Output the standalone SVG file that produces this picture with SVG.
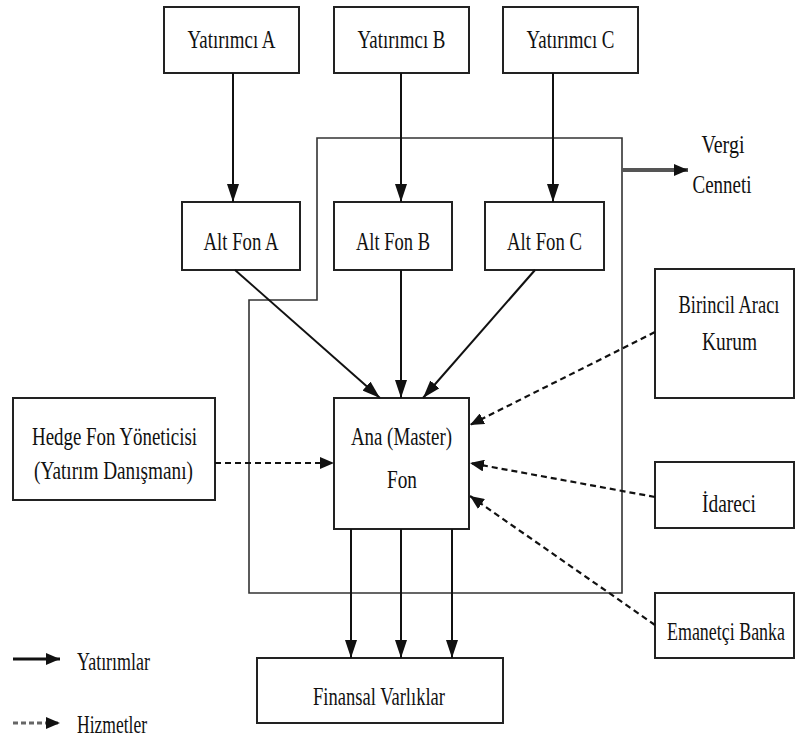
<svg xmlns="http://www.w3.org/2000/svg" width="796" height="746" viewBox="0 0 796 746">
<style>
.box{fill:#fff;stroke:#222;stroke-width:2}
.t{font-family:"Liberation Serif","Times New Roman",serif;font-size:26px;fill:#111;text-anchor:middle}
.tl{font-family:"Liberation Serif","Times New Roman",serif;font-size:26px;fill:#111}
.sol{fill:none;stroke:#111;stroke-width:2}
.dsh{fill:none;stroke:#111;stroke-width:2.2;stroke-dasharray:6 4}
.bnd{fill:none;stroke:#333;stroke-width:1.6}
</style>
<defs>
<marker id="ah" viewBox="0 0 18 12" refX="18" refY="6" markerWidth="18" markerHeight="12" orient="auto" markerUnits="userSpaceOnUse">
<path d="M0,0 L18,6 L0,12 z" fill="#111"/>
</marker>
<marker id="ahs" viewBox="0 0 14 12" refX="14" refY="6" markerWidth="14" markerHeight="12" orient="auto" markerUnits="userSpaceOnUse">
<path d="M0,0 L14,6 L0,12 z" fill="#111"/>
</marker>
</defs>

<g id="boundary">
<path class="bnd" d="M317,138 L622,138 L622,593 L249,593 L249,300 L317,300 Z"/>
</g>

<g id="investorA"><rect class="box" x="164" y="7" width="135" height="66"/><text class="t" x="231.5" y="48" textLength="88" lengthAdjust="spacingAndGlyphs">Yatırımcı A</text></g>
<g id="investorB"><rect class="box" x="334" y="7" width="135" height="66"/><text class="t" x="401.5" y="48" textLength="88" lengthAdjust="spacingAndGlyphs">Yatırımcı B</text></g>
<g id="investorC"><rect class="box" x="503" y="7" width="135" height="66"/><text class="t" x="570.5" y="48" textLength="88" lengthAdjust="spacingAndGlyphs">Yatırımcı C</text></g>

<g id="altA"><rect class="box" x="182" y="202" width="118" height="68"/><text class="t" x="241" y="250" textLength="75" lengthAdjust="spacingAndGlyphs">Alt Fon A</text></g>
<g id="altB"><rect class="box" x="334" y="202" width="118" height="68"/><text class="t" x="393" y="250" textLength="74" lengthAdjust="spacingAndGlyphs">Alt Fon B</text></g>
<g id="altC"><rect class="box" x="485" y="202" width="119" height="68"/><text class="t" x="544.5" y="250" textLength="75" lengthAdjust="spacingAndGlyphs">Alt Fon C</text></g>

<g id="vergi"><text class="t" x="723" y="153" textLength="43" lengthAdjust="spacingAndGlyphs">Vergi</text><text class="t" x="722" y="193" textLength="59" lengthAdjust="spacingAndGlyphs">Cenneti</text></g>

<g id="master"><rect class="box" x="334" y="398" width="135" height="131"/><text class="t" x="401.5" y="445" textLength="101" lengthAdjust="spacingAndGlyphs">Ana (Master)</text><text class="t" x="402" y="488" textLength="30" lengthAdjust="spacingAndGlyphs">Fon</text></g>

<g id="hedge"><rect class="box" x="13" y="398" width="202" height="102"/><text class="t" x="114.5" y="445" textLength="165" lengthAdjust="spacingAndGlyphs">Hedge Fon Yöneticisi</text><text class="t" x="113.5" y="479" textLength="159" lengthAdjust="spacingAndGlyphs">(Yatırım Danışmanı)</text></g>

<g id="birincil"><rect class="box" x="655" y="269" width="139" height="129"/><text class="t" transform="translate(729,313) scale(0.71,1)">Birincil Aracı</text><text class="t" x="729.5" y="350" textLength="55" lengthAdjust="spacingAndGlyphs">Kurum</text></g>
<g id="idareci"><rect class="box" x="655" y="462" width="139" height="66"/><text class="t" x="729" y="512" textLength="54" lengthAdjust="spacingAndGlyphs">İdareci</text></g>
<g id="emanetci"><rect class="box" x="655" y="593" width="139" height="65"/><text class="t" transform="translate(726,640) scale(0.69,1)">Emanetçi Banka</text></g>

<g id="finansal"><rect class="box" x="257" y="658" width="246" height="65"/><text class="t" x="379" y="705" textLength="132" lengthAdjust="spacingAndGlyphs">Finansal Varlıklar</text></g>

<g id="connectors">
<line class="sol" x1="233" y1="73" x2="233" y2="202" marker-end="url(#ah)"/>
<line class="sol" x1="401" y1="73" x2="401" y2="202" marker-end="url(#ah)"/>
<line class="sol" x1="553" y1="73" x2="553" y2="202" marker-end="url(#ah)"/>
<line class="sol" x1="235" y1="270" x2="380" y2="398" marker-end="url(#ah)"/>
<line class="sol" x1="401" y1="270" x2="401" y2="398" marker-end="url(#ah)"/>
<line class="sol" x1="535" y1="270" x2="423" y2="398" marker-end="url(#ah)"/>
<line class="sol" x1="351" y1="529" x2="351" y2="658" marker-end="url(#ah)"/>
<line class="sol" x1="401" y1="529" x2="401" y2="658" marker-end="url(#ah)"/>
<line class="sol" x1="452" y1="529" x2="452" y2="658" marker-end="url(#ah)"/>
<line class="dsh" x1="215" y1="463" x2="334" y2="463" marker-end="url(#ahs)"/>
<line class="dsh" x1="655" y1="332" x2="470" y2="425" marker-end="url(#ahs)"/>
<line class="dsh" x1="655" y1="497" x2="470" y2="463" marker-end="url(#ahs)"/>
<line class="dsh" x1="655" y1="625" x2="470" y2="496" marker-end="url(#ahs)"/>
<line x1="622" y1="170" x2="688" y2="170" stroke="#555" stroke-width="4" marker-end="url(#ahs)"/>
</g>

<g id="legend">
<line x1="13" y1="659" x2="60" y2="659" stroke="#111" stroke-width="3" marker-end="url(#ahs)"/>
<text class="tl" x="77" y="670" textLength="73" lengthAdjust="spacingAndGlyphs">Yatırımlar</text>
<line x1="13" y1="723" x2="60" y2="723" stroke="#666" stroke-width="3" stroke-dasharray="5 3" marker-end="url(#ahs)"/>
<text class="tl" x="77" y="733" textLength="70" lengthAdjust="spacingAndGlyphs">Hizmetler</text>
</g>
</svg>
